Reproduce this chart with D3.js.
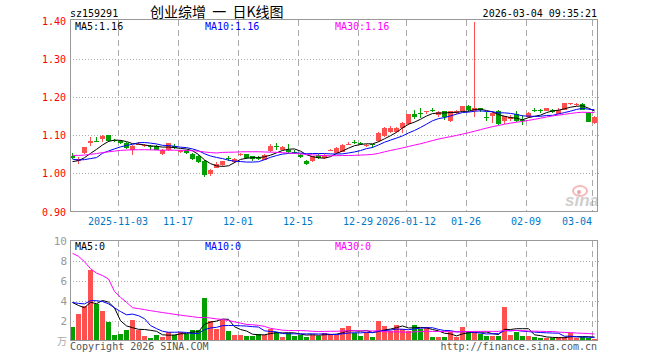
<!DOCTYPE html>
<html>
<head>
<meta charset="utf-8">
<script src="https://cdn.jsdelivr.net/npm/d3@7"></script>
<style>
  body { margin: 0; background: #fff; }
  svg { display: block; }
  text { font-family: "DejaVu Sans Mono", monospace; font-size: 10px; }
</style>
</head>
<body>
<svg></svg>
<script>
const dates = [
  "2025-10-22","2025-10-23","2025-10-24","2025-10-27","2025-10-28","2025-10-29","2025-10-30","2025-10-31",
  "2025-11-03","2025-11-04","2025-11-05","2025-11-06","2025-11-07","2025-11-10","2025-11-11","2025-11-12",
  "2025-11-13","2025-11-14","2025-11-17","2025-11-18","2025-11-19","2025-11-20","2025-11-21","2025-11-24",
  "2025-11-25","2025-11-26","2025-11-27","2025-11-28","2025-12-01","2025-12-02","2025-12-03","2025-12-04",
  "2025-12-05","2025-12-08","2025-12-09","2025-12-10","2025-12-11","2025-12-12","2025-12-15","2025-12-16",
  "2025-12-17","2025-12-18","2025-12-19","2025-12-22","2025-12-23","2025-12-24","2025-12-25","2025-12-26",
  "2025-12-29","2025-12-30","2025-12-31","2026-01-05","2026-01-06","2026-01-07","2026-01-08","2026-01-09",
  "2026-01-12","2026-01-13","2026-01-14","2026-01-15","2026-01-16","2026-01-19","2026-01-20","2026-01-21",
  "2026-01-22","2026-01-23","2026-01-26","2026-01-27","2026-01-28","2026-01-29","2026-01-30","2026-02-02",
  "2026-02-03","2026-02-04","2026-02-05","2026-02-06","2026-02-09","2026-02-10","2026-02-11","2026-02-12",
  "2026-02-13","2026-02-24","2026-02-25","2026-02-26","2026-02-27","2026-03-02","2026-03-03","2026-03-04"
];

const open = [
  1.045,1.033,1.053,1.080,1.085,1.091,1.099,1.088,1.084,1.080,
  1.060,1.077,1.071,1.072,1.072,1.051,1.061,1.072,1.056,1.060,
  1.050,1.046,1.032,0.998,1.014,1.022,1.040,1.030,1.048,1.050,
  1.044,1.041,1.036,1.058,1.072,1.062,1.061,1.057,1.049,1.033,
  1.031,1.049,1.040,1.060,1.053,1.057,1.076,1.082,1.080,1.071,
  1.076,1.084,1.097,1.108,1.108,1.118,1.128,1.156,1.157,1.160,
  1.166,1.152,1.162,1.136,1.158,1.164,1.177,1.163,1.170,1.148,
  1.149,1.164,1.138,1.141,1.154,1.139,1.147,1.167,1.166,1.164,
  1.167,1.156,1.167,1.182,1.178,1.182,1.158,1.132
];
const close = [
  1.040,1.038,1.068,1.084,1.083,1.098,1.084,1.086,1.080,1.067,
  1.072,1.078,1.074,1.068,1.062,1.061,1.079,1.066,1.058,1.054,
  1.038,1.030,0.996,1.009,1.024,1.031,1.038,1.038,1.050,1.040,
  1.038,1.039,1.049,1.071,1.070,1.070,1.055,1.053,1.042,1.024,
  1.044,1.040,1.048,1.062,1.066,1.075,1.078,1.080,1.078,1.075,
  1.074,1.106,1.119,1.118,1.119,1.132,1.154,1.147,1.155,1.162,
  1.164,1.161,1.147,1.162,1.164,1.175,1.165,1.170,1.165,1.146,
  1.158,1.129,1.149,1.147,1.138,1.137,1.158,1.165,1.164,1.170,
  1.160,1.167,1.184,1.184,1.182,1.167,1.135,1.148
];
const high = [
  1.052,1.042,1.069,1.095,1.096,1.099,1.100,1.091,1.087,1.081,
  1.074,1.082,1.078,1.075,1.073,1.063,1.080,1.076,1.060,1.062,
  1.052,1.048,1.034,1.012,1.030,1.033,1.045,1.039,1.052,1.051,
  1.046,1.044,1.050,1.076,1.080,1.072,1.076,1.060,1.050,1.034,
  1.046,1.050,1.051,1.064,1.068,1.076,1.081,1.087,1.083,1.078,
  1.078,1.107,1.120,1.125,1.121,1.133,1.156,1.167,1.170,1.163,
  1.170,1.163,1.164,1.163,1.166,1.177,1.178,1.396,1.172,1.160,
  1.160,1.166,1.151,1.152,1.163,1.152,1.160,1.170,1.168,1.172,
  1.169,1.172,1.185,1.185,1.183,1.183,1.160,1.150
];
const low = [
  1.038,1.025,1.050,1.072,1.083,1.082,1.083,1.082,1.078,1.064,
  1.049,1.073,1.068,1.062,1.060,1.049,1.058,1.064,1.052,1.050,
  1.035,1.028,0.990,0.992,1.013,1.020,1.033,1.028,1.045,1.038,
  1.032,1.034,1.034,1.056,1.062,1.060,1.052,1.050,1.040,1.021,
  1.029,1.037,1.038,1.058,1.051,1.055,1.073,1.076,1.074,1.068,
  1.066,1.082,1.095,1.106,1.105,1.105,1.126,1.142,1.145,1.154,
  1.160,1.148,1.140,1.133,1.155,1.162,1.160,1.148,1.160,1.138,
  1.131,1.126,1.128,1.138,1.133,1.126,1.145,1.160,1.158,1.162,
  1.157,1.154,1.165,1.178,1.176,1.165,1.133,1.130
];
// volume in 万
const volume = [
  1.4,2.7,3.5,7.1,3.7,3.0,1.9,0.6,0.7,1.1,
  2.1,1.1,0.5,0.3,0.6,0.35,0.9,0.6,0.9,0.7,
  1.1,1.1,4.3,2.0,1.2,2.1,1.0,0.6,0.6,0.45,
  0.5,0.7,0.6,1.2,0.9,0.4,0.8,0.5,0.6,0.4,
  0.6,0.5,0.8,0.67,0.6,1.3,1.5,0.77,0.5,0.9,
  0.33,2.0,1.5,1.0,1.6,1.17,1.0,1.6,1.17,1.4,
  0.33,0.33,0.4,0.83,0.4,1.33,0.9,0.83,0.67,0.5,
  0.5,0.5,3.4,0.6,0.9,0.5,0.5,0.33,0.23,0.23,
  0.27,0.33,0.33,0.73,0.23,0.33,0.27,0.13
];

// the 29 sessions before the window, estimated from where the MA lines start
const priorClose = [
  1.045,1.038,1.030,1.022,1.018,1.025,1.030,1.024,1.040,1.055,
  1.068,1.075,1.080,1.078,1.072,1.070,1.073,1.069,1.066,1.062,
  1.060,1.058,1.057,1.057,0.985,1.025,1.030,1.028,1.030
];
const priorVolume = [
  11.5,19.8,27.9,17.0,10.3,12.2,37.9,18.5,15.9,18.4,
  3.8,3.5,3.6,3.2,3.3,3.4,3.5,3.3,3.2,3.2,
  3.6,4.0,3.9,3.7,3.8,4.2,4.6,4.4,4.4
];

const priceTicks = [0.9, 1.0, 1.1, 1.2, 1.3, 1.4];
const volumeTicks = [2, 4, 6, 8, 10];
const dateTicks = ["2025-11-03","2025-11-17","2025-12-01","2025-12-15","2025-12-29",
                   "2026-01-12","2026-01-26","2026-02-09","2026-03-04"];
const dateLabels = ["2025-11-03","11-17","12-01","12-15","12-29","2026-01-12","01-26","02-09","03-04"];
const maPeriods = [5, 10, 30];
const maColors = ["#000000", "#0000ff", "#ff00ff"];
const priceMALabels = ["1.16", "1.16", "1.16"];
const volumeMALabels = ["0", "0", "0"];

const width = 660, height = 360;
const left = 70, right = 598;
const red = "#ff5050", green = "#00a000";

const svg = d3.select("svg").attr("width", width).attr("height", height);

const x = d3.scaleBand().domain(dates).range([left, right]).padding(0);
const cx = d => x(d) + 2.5;
const y = d3.scaleLinear().domain([0.9, 1.4]).range([211.5, 20.5]);
const yv = d3.scaleLinear().domain([0, 10]).range([340.5, 240.5]);

const rows = dates.map((d, i) => ({
  date: d, open: open[i], close: close[i], high: high[i], low: low[i], vol: volume[i],
  up: close[i] >= open[i]
}));

function movingAverage(prior, values, n) {
  const all = prior.concat(values);
  return values.map((v, i) => d3.mean(all.slice(i + prior.length - n + 1, i + prior.length + 1)));
}

// grids
function grid(top, bottom, scale, ticks) {
  svg.append("g").selectAll("line").data(ticks).enter().append("line")
    .attr("x1", left).attr("x2", 600)
    .attr("y1", d => Math.round(scale(d)) + 0.5).attr("y2", d => Math.round(scale(d)) + 0.5)
    .attr("stroke", "#aaa").attr("stroke-dasharray", "1,2");
  svg.append("g").selectAll("line").data(dateTicks).enter().append("line")
    .attr("x1", d => x(d) + 0.5).attr("x2", d => x(d) + 0.5)
    .attr("y1", top).attr("y2", bottom)
    .attr("stroke", "#aaa").attr("stroke-dasharray", "6,4");
}
grid(20, 211, y, [1.0, 1.1, 1.2, 1.3]);
grid(241, 340, yv, [2, 4, 6, 8]);

// watermark
const logo = svg.append("g").attr("opacity", 0.55);
logo.append("ellipse").attr("cx", 580).attr("cy", 191).attr("rx", 7).attr("ry", 5)
  .attr("fill", "none").attr("stroke", "#f08080").attr("stroke-width", 2);
logo.append("circle").attr("cx", 579).attr("cy", 192).attr("r", 2).attr("fill", "#e06060");
logo.append("text").attr("x", 565).attr("y", 206)
  .style("font-family", "Liberation Sans, sans-serif").style("font-size", "17px")
  .style("font-weight", "bold").style("font-style", "italic")
  .attr("fill", "#a8a8a8").text("sina");

// candles
const candles = svg.append("g").attr("shape-rendering", "crispEdges");
candles.selectAll(".wick").data(rows).enter().append("rect")
  .attr("x", d => x(d.date) + 2).attr("width", 1)
  .attr("y", d => y(d.high)).attr("height", d => Math.max(1, y(d.low) - y(d.high)))
  .attr("fill", d => d.up ? red : green);
candles.selectAll(".body").data(rows).enter().append("rect")
  .attr("x", d => x(d.date)).attr("width", x.bandwidth() - 1)
  .attr("y", d => y(Math.max(d.open, d.close)))
  .attr("height", d => Math.max(1, Math.abs(y(d.open) - y(d.close))))
  .attr("fill", d => d.up ? red : green);

// volume bars
svg.append("g").attr("shape-rendering", "crispEdges")
  .selectAll("rect").data(rows).enter().append("rect")
  .attr("x", d => x(d.date)).attr("width", x.bandwidth() - 1)
  .attr("y", d => yv(d.vol)).attr("height", d => yv(0) - yv(d.vol))
  .attr("fill", d => d.up ? red : green);

// moving averages
const priceMA = maPeriods.map(n => movingAverage(priorClose, close, n));
const volMA = maPeriods.map(n => movingAverage(priorVolume, volume, n));
maPeriods.forEach((n, k) => {
  const linePrice = d3.line().x((v, i) => cx(dates[i])).y(v => y(v));
  const lineVol = d3.line().x((v, i) => cx(dates[i])).y(v => yv(v));
  svg.append("path").attr("d", linePrice(priceMA[k]))
    .attr("fill", "none").attr("stroke", maColors[k]).attr("stroke-width", 1);
  svg.append("path").attr("d", lineVol(volMA[k]))
    .attr("fill", "none").attr("stroke", maColors[k]).attr("stroke-width", 1);
});

// frames
svg.append("rect").attr("x", left + 0.5).attr("y", 19.5).attr("width", 527).attr("height", 192)
  .attr("fill", "none").attr("stroke", "#999");
svg.append("rect").attr("x", left + 0.5).attr("y", 240.5).attr("width", 527).attr("height", 100)
  .attr("fill", "none").attr("stroke", "#999");

// axis labels
svg.append("g").selectAll("text").data(priceTicks).enter().append("text")
  .attr("x", 66).attr("y", d => y(d) + 4).attr("text-anchor", "end")
  .attr("fill", "#ff0000").text(d3.format(".2f"));
svg.append("g").selectAll("text").data(volumeTicks).enter().append("text")
  .attr("x", 67).attr("y", d => yv(d) + 4).attr("text-anchor", "end")
  .attr("fill", "#999").style("font-size", "11px").text(d => d);
svg.append("text").attr("x", 67).attr("y", 345).attr("text-anchor", "end")
  .attr("fill", "#aaa").style("font-family", "Noto Sans CJK SC").style("font-size", "10px").text("万");

svg.append("g").selectAll("text").data(dateTicks).enter().append("text")
  .attr("x", d => x(d))
  .attr("y", 225)
  .attr("text-anchor", (d, i) => i === dateTicks.length - 1 ? "end" : "middle")
  .attr("fill", "#0078c8").text((d, i) => dateLabels[i]);

// headers
svg.append("text").attr("x", 70).attr("y", 16.5).attr("fill", "#000").text("sz159291");
svg.append("text").attr("x", 150).attr("y", 17).attr("fill", "#000").attr("xml:space", "preserve")
  .style("font-family", "Noto Sans CJK SC").style("font-size", "14px").text("创业综增  一  日K线图");
svg.append("text").attr("x", 597).attr("y", 16.5).attr("text-anchor", "end").attr("fill", "#000")
  .text("2026-03-04 09:35:21");

const maX = [75, 205, 335];
maPeriods.forEach((n, k) => {
  svg.append("text").attr("x", maX[k]).attr("y", 29.5).attr("fill", maColors[k])
    .text("MA" + n + ":" + priceMALabels[k]);
  svg.append("text").attr("x", maX[k]).attr("y", 250).attr("fill", maColors[k])
    .text("MA" + n + ":" + volumeMALabels[k]);
});

svg.append("text").attr("x", 70).attr("y", 349.5).attr("fill", "#555").text("Copyright 2026 SINA.COM");
svg.append("text").attr("x", 597).attr("y", 349.5).attr("text-anchor", "end").attr("fill", "#555")
  .text("http://finance.sina.com.cn");
</script>
</body>
</html>
